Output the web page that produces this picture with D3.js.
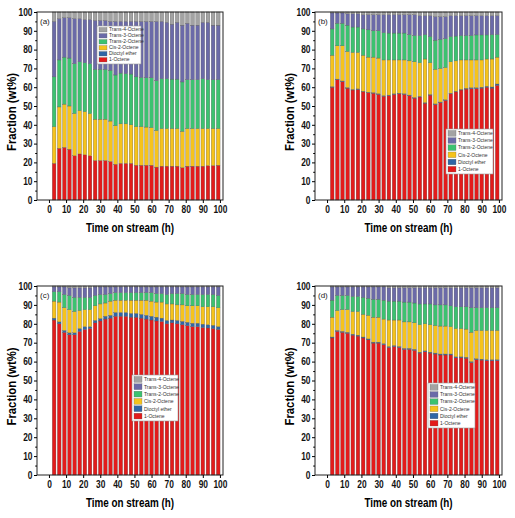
<!DOCTYPE html>
<html><head><meta charset="utf-8">
<script src="https://cdn.jsdelivr.net/npm/d3@7"></script>
<style>body{margin:0;background:#fff}svg{display:block}text{font-family:"Liberation Sans",Arial,sans-serif}</style>
</head><body><svg id="c" width="515" height="518"></svg>
<script>
const hours = [3,6,9,12,15,18,21,24,27,30,33,36,39,42,45,48,51,54,57,60,63,66,69,72,75,78,81,84,87,90,93,96,99];
const species = ["1-Octene","Dioctyl ether","Cis-2-Octene","Trans-2-Octene","Trans-3-Octene","Trans-4-Octene"];
const legendOrder = ["Trans-4-Octene","Trans-3-Octene","Trans-2-Octene","Cis-2-Octene","Dioctyl ether","1-Octene"];
const yTicks = [0,10,20,30,40,50,60,70,80,90,100];
const xTicks = [0,10,20,30,40,50,60,70,80,90,100];

// Panel (a)
const a_oct1 = [19.5,27.5,28,27,23.5,24.5,24,23.5,21,21,21,20.5,19,19.5,19.5,19.5,18.5,18.5,18.5,18.5,17.5,18,18,18,18,17.2,18,18,18,18,18.3,18.3,18.5];
const a_ether = [0,0,0,0,0,0,0,0,0,0,0,0,0,0,0,0,0,0,0,0,0,0,0,0,0,0,0,0,0,0,0,0,0];
const a_cis2 = [19.5,22,23,23,22.5,23,23,22.5,22,22,22,21.5,20.5,21,21,20.5,20.5,20.5,20.3,20,19.5,20,20,20,20,19.3,20,20,20,20,19.7,19.7,19.5];
const a_trans2 = [26.5,25,25,25.5,26.5,26,26,26.5,26.5,26.5,26.5,27,27,27,26.7,27,26.5,26.2,26.2,26.5,26.5,26.5,26.5,26.3,26.3,26.3,26,26,26,26.5,26,26,26];
const a_trans3 = [29.5,22,21,21.5,24,23,23,23.5,26,26,26,26,28.5,27.5,27.8,28,29.5,29.8,30,30,31.5,30.5,30,29.2,30.2,30.2,30,29,29,30,30.5,29,29];
const a_trans4 = [5,3.5,3,3,3.5,3.5,4,4,4.5,4.5,4.5,5,5,5,5,5,5,5,5,5,5,5,5.5,6.5,5.5,7,6,7,7,5.5,5.5,7,7];

// Panel (b)
const b_oct1 = [60,64,63,59.5,58.5,58.8,57.5,57,56.8,56.2,55.2,55.5,56.2,56.5,56.2,55.5,54.2,54.8,51.5,55.8,50.8,51.8,53,56.5,57.5,58.5,59,59.2,59.2,59.5,60,59.5,61];
const b_ether = [0.3,0.3,0.3,0.3,0.3,0.3,0.3,0.3,0.3,0.3,0.3,0.3,0.3,0.3,0.3,0.3,0.3,0.3,0.3,0.3,0.3,0.3,0.3,0.3,0.3,0.3,0.4,0.5,0.5,0.5,0.5,0.6,0.7];
const b_cis2 = [16.7,17.7,18.7,19.2,19.7,19.4,19.2,18.7,18.9,19,19,18.7,18,17.7,18,18.2,19,17.9,23.2,16.9,18.4,17.9,17.2,16.7,16.2,15.7,15.1,14.8,14.8,14.5,14.5,14.9,14.3];
const b_trans2 = [14,12,12,14,13.5,13.5,14,14.5,14,14.5,14.5,14.3,14.3,14.3,14.3,14,14,14.5,13,14,15.5,15.5,15.3,13.5,13.2,13,13,13,13.3,13.3,12.8,13,12];
const b_trans3 = [8.5,5.5,5.5,6,7,7,7.5,8,8.5,8.5,9.5,9.7,9.7,9.7,9.7,10.5,11,10.5,10,11,12.5,12,11.7,11,10.8,10.5,10.5,10.5,10.2,10.2,10.2,10,10];
const b_trans4 = [0.5,0.5,0.5,1,1,1,1.5,1.5,1.5,1.5,1.5,1.5,1.5,1.5,1.5,1.5,1.5,2,2,2,2.5,2.5,2.5,2,2,2,2,2,2,2,2,2,2];

// Panel (c)
const c_oct1 = [82,80,75.5,74.2,74.2,76,77,77.5,80.5,81.5,82.5,83,84,84,84,83.5,83.5,83,82.5,82,81.5,81.2,80,80.5,80,79.5,79,78.5,78.5,78,77.8,77.5,77];
const c_ether = [1,1,1,1,1,1.5,1.5,1,1.3,1.3,1.5,1.5,2,2,2,2,2,2,2,2,2,1.8,1.8,1.5,1.8,1.8,1.8,1.8,1.8,1.8,1.7,1.7,1.5];
const c_cis2 = [9,10.5,12,12.3,11.3,9.5,9,9,7.7,7.7,7,7.5,6.5,6.5,6.5,7,7,7.5,8,8,8,8.5,8.7,8.5,8.2,8.7,8.7,9.2,9.2,9.2,9.5,9.8,10];
const c_trans2 = [5,5.5,7,7.5,7.5,7,6.5,6.5,5.5,5,4.5,4,4,4,4,4,4,4,4,4.5,4.5,4.5,5,5.5,6,6,6,6,6,6.5,6.5,6.5,6.5];
const c_trans3 = [2.5,2.5,4,4,5,5,5,5,4.5,4,4,3.5,3,3,3,3,3,3,3,3,3.5,3.5,4,3.5,3.5,3.5,4,4,4,4,4,4,4.5];
const c_trans4 = [0.5,0.5,0.5,1,1,1,1,1,0.5,0.5,0.5,0.5,0.5,0.5,0.5,0.5,0.5,0.5,0.5,0.5,0.5,0.5,0.5,0.5,0.5,0.5,0.5,0.5,0.5,0.5,0.5,0.5,0.5];

// Panel (d)
const d_oct1 = [72.5,76,75.5,75,74,73.5,72.5,71.5,69.8,69.8,69,67.5,68,67.5,66.5,66.5,66,64.5,65.2,64.5,64,63.5,63.5,63.5,62,62,61.8,59.5,61,60.8,60.5,60.5,60.5];
const d_ether = [0.5,0.5,0.5,0.5,0.5,0.5,0.5,0.5,0.5,0.5,0.5,0.5,0.5,0.5,0.5,0.5,0.5,0.5,0.5,0.5,0.5,0.5,0.5,0.5,0.5,0.5,0.5,0.5,0.5,0.5,0.5,0.5,0.5];
const d_cis2 = [10.5,10.5,11.5,12,12,12.5,12,12.5,13.2,13.2,13,14,13.5,14,14,14,14,14.5,14.3,14.5,14.5,14.8,14.8,14.5,15,15,14.9,15.5,15,15.2,15.5,15.5,15.5];
const d_trans2 = [9,8,7.5,7.5,8,8,9,9,9.5,9.5,10,10,10,10,10.5,10.5,10.5,11,10.5,11,11,11.2,11.2,11,11.5,11.5,11.8,13,12,12,12,12,12];
const d_trans3 = [7,4.5,4.5,4.5,5,5,5.5,6,6.5,6.5,7,7,7,7,7.5,7.5,8,8.5,8.5,8.5,9,9,9,9.5,10,10,10,10.5,10.5,10.5,10.5,10.5,10.5];
const d_trans4 = [0.5,0.5,0.5,0.5,0.5,0.5,0.5,0.5,0.5,0.5,0.5,1,1,1,1,1,1,1,1,1,1,1,1,1,1,1,1,1,1,1,1,1,1];

const colors = {"1-Octene":"#e31b1b","Dioctyl ether":"#2f66a6","Cis-2-Octene":"#f6c31c","Trans-2-Octene":"#3cc270","Trans-3-Octene":"#6b6aa8","Trans-4-Octene":"#a3a3a3"};

function rows(s){ return hours.map((h,i)=>({h, "1-Octene":s[0][i],"Dioctyl ether":s[1][i],"Cis-2-Octene":s[2][i],"Trans-2-Octene":s[3][i],"Trans-3-Octene":s[4][i],"Trans-4-Octene":s[5][i]})); }

const panels = [
  {label:"(a)", series:[a_oct1,a_ether,a_cis2,a_trans2,a_trans3,a_trans4], box:{l:37,r:223,t:12,b:200}, leg:{x:97,y:26,w:44,h:38}},
  {label:"(b)", series:[b_oct1,b_ether,b_cis2,b_trans2,b_trans3,b_trans4], box:{l:315,r:502,t:12,b:200}, leg:{x:446,y:129,w:47,h:45}},
  {label:"(c)", series:[c_oct1,c_ether,c_cis2,c_trans2,c_trans3,c_trans4], box:{l:37,r:223,t:286,b:475}, leg:{x:132,y:375,w:46,h:46}},
  {label:"(d)", series:[d_oct1,d_ether,d_cis2,d_trans2,d_trans3,d_trans4], box:{l:315,r:502,t:286,b:475}, leg:{x:428,y:383,w:47,h:45}}
];

const svg = d3.select("#c");
panels.forEach(p=>{
  const B = p.box;
  const g = svg.append("g");
  const x = d3.scaleLinear().domain([-7,101.8]).range([B.l,B.r]);
  const y = d3.scaleLinear().domain([0,100]).range([B.b,B.t]);
  const data = rows(p.series);
  const stack = d3.stack().keys(species)(data);
  const bw = (x(3)-x(0))*0.72;
  g.selectAll("g.s").data(stack).join("g").attr("fill",d=>colors[d.key])
    .selectAll("rect").data(d=>d).join("rect")
    .attr("x",d=>x(d.data.h)-bw/2).attr("width",bw)
    .attr("y",d=>y(d[1])).attr("height",d=>Math.max(0,y(d[0])-y(d[1])))
    .attr("stroke","#555").attr("stroke-width",0.3);
  // frame
  g.append("rect").attr("x",B.l).attr("y",B.t).attr("width",B.r-B.l).attr("height",B.b-B.t)
    .attr("fill","none").attr("stroke","#222").attr("stroke-width",1);
  // y axis
  const ya = g.append("g").attr("transform",`translate(${B.l},0)`)
    .call(d3.axisLeft(y).tickValues(yTicks).tickSize(3).tickPadding(2));
  ya.select(".domain").remove();
  ya.selectAll("text").attr("x",0).attr("transform","translate(-4.5,0) scale(0.84,1)")
    .attr("font-size",10).attr("font-weight","bold").attr("fill","#111");
  g.append("g").attr("transform",`translate(${B.l},0)`)
    .call(d3.axisLeft(y).tickValues([5,15,25,35,45,55,65,75,85,95]).tickSize(1.8).tickFormat(""))
    .select(".domain").remove();
  // x axis
  const xa = g.append("g").attr("transform",`translate(0,${B.b})`)
    .call(d3.axisBottom(x).tickValues(xTicks).tickSize(3).tickPadding(2.5));
  xa.select(".domain").remove();
  xa.selectAll("text").attr("transform","scale(0.84,1)")
    .attr("font-size",10).attr("font-weight","bold").attr("fill","#111");
  // titles
  g.append("text").attr("x",(B.l+B.r)/2).attr("y",B.b+32).attr("text-anchor","middle")
    .attr("font-size",13.5).attr("font-weight","bold")
    .attr("textLength",88).attr("lengthAdjust","spacingAndGlyphs").text("Time on stream (h)");
  g.append("text").attr("transform",`translate(${B.l-21},${(B.t+B.b)/2+6}) rotate(-90)`).attr("text-anchor","middle")
    .attr("font-size",13.5).attr("font-weight","bold")
    .attr("textLength",78).attr("lengthAdjust","spacingAndGlyphs").text("Fraction (wt%)");
  g.append("text").attr("x",B.l+3).attr("y",B.t+12).attr("font-size",8).attr("fill","#222").text(p.label);
  // legend
  const L = p.leg;
  const lg = g.append("g").attr("transform",`translate(${L.x},${L.y})`);
  lg.append("rect").attr("width",L.w).attr("height",L.h).attr("fill","#fff").attr("stroke","#999").attr("stroke-width",0.6);
  const step = (L.h-2)/legendOrder.length;
  legendOrder.forEach((k,i)=>{
    lg.append("rect").attr("x",2).attr("y",1.5+i*step).attr("width",8).attr("height",step-1.5)
      .attr("fill",colors[k]).attr("stroke","#666").attr("stroke-width",0.3);
    lg.append("text").attr("x",12).attr("y",1+i*step+step*0.72).attr("font-size",5).attr("fill","#333").text(k);
  });
});
</script></body></html>
